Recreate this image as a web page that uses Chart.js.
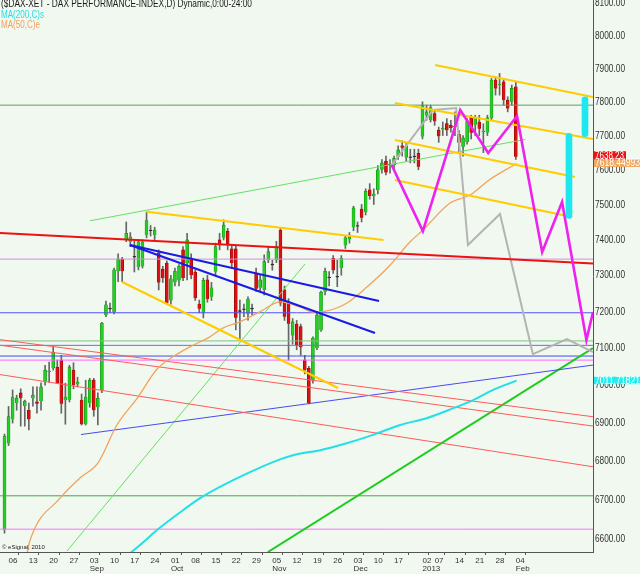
<!DOCTYPE html>
<html><head><meta charset="utf-8">
<script src="https://cdn.jsdelivr.net/npm/chart.js@4.4.1/dist/chart.umd.min.js"></script>
<style>html,body{margin:0;padding:0;background:#f0f8f0;}canvas{display:block;}</style>
</head><body>
<canvas id="c" width="640" height="574"></canvas>
<script>
// ---- categories: trading sessions (2012-08-03 .. 2013-02-04)
const sessions = ['08-03',
'08-06','08-07','08-08','08-09','08-10','08-13','08-14','08-15','08-16','08-17',
'08-20','08-21','08-22','08-23','08-24','08-27','08-28','08-29','08-30','08-31',
'09-03','09-04','09-05','09-06','09-07','09-10','09-11','09-12','09-13','09-14',
'09-17','09-18','09-19','09-20','09-21','09-24','09-25','09-26','09-27','09-28',
'10-01','10-02','10-03','10-04','10-05','10-08','10-09','10-10','10-11','10-12',
'10-15','10-16','10-17','10-18','10-19','10-22','10-23','10-24','10-25','10-26',
'10-29','10-30','10-31','11-01','11-02','11-05','11-06','11-07','11-08','11-09',
'11-12','11-13','11-14','11-15','11-16','11-19','11-20','11-21','11-22','11-23',
'11-26','11-27','11-28','11-29','11-30','12-03','12-04','12-05','12-06','12-07',
'12-10','12-11','12-12','12-13','12-14','12-17','12-18','12-19','12-20','12-21',
'12-27','12-28','01-02','01-03','01-04','01-07','01-08','01-09','01-10','01-11',
'01-14','01-15','01-16','01-17','01-18','01-21','01-22','01-23','01-24','01-25',
'01-28','01-29','01-30','01-31','02-01','02-04'];

// ---- OHLC series
const opens = [6623,6846,6909,6952,6979,6944,6933,6965,6955,6957,7010,7035,7045,7048,7067,6960,6960,7040,7002,6960,
6896,6952,7013,6941,6987,7190,7206,7198,7311,7345,7400,7394,7350,7323,7325,7413,7424,7413,7363,7317,
7334,7230,7280,7285,7371,7334,7348,7309,7220,7196,7287,7240,7310,7399,7405,7424,7374,7374,7199,7204,
7193,7206,7306,7265,7259,7342,7328,7342,7427,7259,7226,7134,7165,7158,7067,7045,7013,7100,7149,7254,
7292,7347,7294,7320,7384,7401,7435,7437,7487,7478,7542,7524,7541,7600,7625,7614,7614,7638,7670,7636,
7635,7637,7648,7697,7760,7746,7765,7716,7718,7735,7731,7725,7704,7667,7681,7754,7732,7740,7710,7709,
7752,7865,7850,7860,7805,7800,7845];
const highs = [6870,6943,6987,6973,6990,6960,6952,6995,6995,7006,7053,7062,7102,7067,7080,7005,7053,7060,7021,6976,
7013,7018,7018,6979,7170,7228,7223,7320,7360,7350,7450,7420,7396,7400,7400,7478,7440,7435,7371,7325,
7340,7300,7320,7330,7380,7418,7360,7315,7231,7292,7300,7280,7390,7418,7456,7432,7385,7385,7231,7220,
7240,7220,7320,7300,7357,7380,7342,7395,7432,7270,7235,7180,7175,7165,7080,7050,7130,7195,7256,7320,
7310,7355,7342,7355,7412,7420,7495,7450,7500,7545,7560,7545,7612,7630,7640,7630,7640,7670,7685,7680,
7660,7660,7660,7800,7790,7790,7775,7725,7740,7750,7745,7770,7715,7700,7750,7760,7760,7760,7735,7760,
7870,7875,7885,7865,7815,7850,7860];
const lows = [6615,6840,6899,6933,6891,6891,6881,6944,6925,6933,7000,7008,7040,7005,6925,6896,6955,6990,6995,6894,
6894,6941,6917,6894,6980,7185,7196,7193,7282,7282,7394,7380,7309,7315,7320,7405,7410,7400,7259,7280,
7220,7220,7270,7270,7285,7287,7290,7230,7196,7182,7225,7230,7300,7371,7399,7371,7320,7149,7121,7185,
7176,7190,7255,7255,7245,7335,7314,7335,7215,7175,7067,7110,7095,7080,7030,6950,7005,7095,7145,7245,
7270,7305,7268,7300,7375,7390,7425,7420,7450,7470,7515,7500,7530,7590,7585,7590,7600,7630,7640,7625,
7620,7620,7600,7690,7745,7740,7730,7680,7700,7700,7710,7700,7650,7640,7675,7690,7700,7700,7650,7700,
7745,7820,7820,7790,7770,7790,7630];
const closes = [6865,6916,6968,6965,6965,6957,6909,6973,6950,6995,7040,7036,7088,7005,6950,6968,7048,7000,7008,6896,
6968,7013,6933,6965,7168,7218,7206,7315,7345,7311,7418,7408,7350,7394,7393,7454,7424,7427,7280,7292,
7223,7290,7311,7325,7292,7399,7300,7236,7207,7286,7234,7265,7380,7385,7441,7385,7334,7182,7199,7204,
7234,7206,7262,7287,7338,7366,7328,7380,7222,7185,7166,7171,7107,7102,7040,6952,7127,7190,7253,7311,
7292,7314,7294,7347,7405,7407,7490,7437,7462,7538,7524,7530,7600,7620,7592,7614,7633,7658,7664,7670,
7635,7637,7609,7790,7770,7783,7742,7698,7722,7716,7722,7728,7679,7693,7742,7708,7754,7720,7712,7752,
7865,7840,7852,7805,7780,7840,7638];

// ---- studies (session index, value)
const ma50 = [[5.5,6560],[6.3,6597],[13.7,6704],[18.6,6756],[23.0,6794],[27.7,6894],[32.9,6968],[37.6,7043],
[41.5,7076],[45.7,7103],[50.6,7130],[53.8,7154],[58.0,7171],[63.0,7199],[67.9,7226],[72.8,7212],[76.0,7198],
[79.5,7201],[84.4,7223],[89.3,7267],[95.0,7328],[99.9,7393],[103.1,7427],[109.8,7504],[114.7,7527],[119.6,7572],[126.2,7618.45]];
const ma200 = [[30.4,6560],[33.4,6585],[37.6,6623],[43.3,6668],[48.2,6704],[53.1,6733],[60.5,6771],[67.9,6804],
[71.1,6815],[77.8,6828],[84.3,6846],[90.8,6868],[97.5,6894],[104.0,6912],[110.5,6938],[115.5,6960],[120.4,6987],[126.2,7011.72]];

// ---- drawn levels and trend lines (session index, value)
const hLevels = [7790,7345,7196,7119,7107,7078,7067,6710,6625];
const redMain = [[-1.11,7418.5],[145.02,7332.4]];
const redThin = [[[-1.11,7122.5],[145.02,6915.8]],[[-1.11,7107.3],[145.02,6891.2]],[[-1.11,7028.1],[145.02,6784.9]]];
const blueFan = [[[30.9,7384.6],[92.3,7228.3]],[[30.9,7384.6],[91.3,7140.5]]];
const blueSupport = [[18.85,6868.9],[145.02,7053.7]];
const goldLines = [[[35.0,7479.2],[93.4,7398.8]],[[29.0,7281.0],[82.2,6992.0]],
  [[106.1,7910.4],[145.02,7814.2]],[[96.2,7796.4],[145.02,7689.9]],[[96.2,7687.0],[140.6,7579.0]],[[96.2,7570.3],[139.9,7464.1]]];
const greenFast = [[64.9,6567.5],[145.02,7099.7]];
const greenLight = [[15.4,6570],[74.05,7331.2]];
const greenUpper = [[21.1,7453.5],[128.3,7688.5]];
const magentaPath = [[95.4,7613.8],[103.1,7424.2],[112.3,7775.6],[119.2,7648.8],[126.3,7757.8],[132.5,7364.9],[137.4,7507.0],[143.4,7121.4],[145.02,7198.1]];
const grayPath = [[95.4,7613.8],[105.6,7775.6],[111.3,7781.5],[114.2,7384.6],[122.1,7472.6],[130.2,7083.4],[138.6,7124.1],[145.02,7088.9]];
const targetBars = [[143.05,7696.6,7815.1],[139.1,7460.3,7706.7]];

// ---- axes
const yTicks = [6600,6700,6800,6900,7000,7100,7200,7300,7400,7500,7600,7700,7800,7900,8000,8100];
const tickDates = ['08-06','08-13','08-20','08-27','09-03','09-10','09-17','09-24','10-01','10-08','10-15','10-22','10-29',
'11-05','11-12','11-19','11-26','12-03','12-10','12-17','01-02','01-07','01-14','01-21','01-28','02-04'];
const tickLabels = [['06'],['13'],['20'],['27'],['03','Sep'],['10'],['17'],['24'],['01','Oct'],['08'],['15'],['22'],['29'],
['05','Nov'],['12'],['19'],['26'],['03','Dec'],['10'],['17'],['02','2013'],['07'],['14'],['21'],['28'],['04','Feb']];

const X_MIN = -1.109, X_MAX = 145.02, Y_MIN = 6567.5, Y_MAX = 8109.3;
const REG = "'Liberation Sans',Arial,sans-serif";

const tickIdx = tickDates.map(d => sessions.indexOf(d));
const pts = a => a.map(p => ({x: p[0], y: p[1]}));
function seg(data, color, width, extra) {
  return Object.assign({type: 'line', data: pts(data), borderColor: color, borderWidth: width,
    pointRadius: 0, fill: false, tension: 0, order: 1}, extra || {});
}
const hColors = ['#5a9e5a','#d58ee0','#5050ff','#7cc47c','#6a6aff','#4848f0','#ff66ff','#44aa44','#ff70ff'];

const datasets = [];
hLevels.forEach((v, i) => datasets.push(seg([[X_MIN, v], [X_MAX, v]], hColors[i], 1, {order: 5})));
redThin.forEach(l => datasets.push(seg(l, '#ff5a5a', 1, {order: 4})));
datasets.push(seg(blueSupport, '#4a4af0', 1, {order: 4}));
datasets.push(seg(greenLight, '#66e066', 1, {order: 4}));
datasets.push(seg(greenUpper, '#66e066', 1, {order: 4}));
datasets.push(seg(greenFast, '#1ccc1c', 2, {order: 4}));
datasets.push(seg(ma200, '#22e0e6', 2, {order: 3, cubicInterpolationMode: 'monotone'}));
datasets.push(seg(ma50, '#f4a35a', 1.3, {order: 3, cubicInterpolationMode: 'monotone'}));
// candles
const idx = sessions.map((s, i) => i);
datasets.push({type: 'bar', data: idx.map(i => ({x: i, y: [lows[i], highs[i]]})), backgroundColor: '#666',
  barThickness: 1, grouped: false, order: 7});
datasets.push({type: 'bar', data: idx.map(i => ({x: i, y: [opens[i], closes[i]]})),
  backgroundColor: idx.map(i => closes[i] > opens[i] ? '#22d022' : closes[i] < opens[i] ? '#dd1010' : '#333'),
  borderColor: idx.map(i => closes[i] > opens[i] ? '#118a11' : closes[i] < opens[i] ? '#8a0a0a' : '#333'),
  borderWidth: 0.6, barThickness: 3, minBarLength: 1, grouped: false, order: 6});
datasets.push(seg(redMain, '#ee1111', 2, {order: 2}));
blueFan.forEach(l => datasets.push(seg(l, '#1a1ae6', 2, {order: 2})));
goldLines.forEach(l => datasets.push(seg(l, '#ffcc00', 2.2, {order: 2})));
datasets.push(seg(grayPath, '#b4b4b4', 2, {order: 2}));
datasets.push(seg(magentaPath, '#ee22ee', 2.6, {order: 1}));
datasets.push({type: 'bar', data: targetBars.map(b => ({x: b[0], y: [b[1], b[2]]})), backgroundColor: '#1ee8ee',
  barThickness: 6, borderRadius: 3, borderSkipped: false, grouped: false, order: 0});

const bg = {id: 'bg', beforeDraw(c) { const g = c.ctx; g.save(); g.fillStyle = '#f0f8f0'; g.fillRect(0, 0, c.width, c.height); g.restore(); }};
const overlay = {id: 'overlay', afterDraw(c) {
  const g = c.ctx, ys = c.scales.y; g.save();
  g.textAlign = 'left'; g.textBaseline = 'alphabetic';
  g.font = '10px ' + REG;
  g.fillStyle = '#1a1a1a'; g.fillText('($DAX-XET - DAX PERFORMANCE-INDEX,D) Dynamic,0:00-24:00', 1, 7, 251);
  g.fillStyle = '#22e0e6'; g.fillText('MA(200,C)s', 1, 17.5, 43);
  g.fillStyle = '#f0a060'; g.fillText('MA(50,C)e', 1, 28, 39);
  g.font = '6px ' + REG; g.fillStyle = '#222'; g.fillText('\u00a9 eSignal, 2010', 2, 549);
  // right axis labels (condensed)
  g.font = '10px ' + REG; g.textBaseline = 'middle'; g.fillStyle = '#333';
  yTicks.forEach(v => g.fillText(v.toFixed(2), 595, ys.getPixelForValue(v) + 0.5, 30));
  const tags = [{v: closes[closes.length - 1], t: '7638.23', bg: '#ee1111', dy: -5.5, h: 8.5, w: 32, mw: 29},
                {v: ma50[ma50.length - 1][1], t: '7618.44993', bg: '#f0a860', dy: -4, h: 7.5, w: 46, mw: 45},
                {v: ma200[ma200.length - 1][1], t: '7011.71821', bg: '#22eef0', dy: -4, h: 7.5, w: 47, mw: 45}];
  tags.forEach(tg => { const py = ys.getPixelForValue(tg.v); g.fillStyle = tg.bg; g.fillRect(594, py + tg.dy, tg.w, tg.h);
    g.fillStyle = '#fff'; g.fillText(tg.t, 595, py + tg.dy + tg.h / 2 + 0.5, tg.mw); });
  g.restore();
}};

new Chart(document.getElementById('c'), {
  data: {datasets},
  options: {
    responsive: false, animation: false, devicePixelRatio: 1, events: [],
    layout: {padding: 0},
    plugins: {legend: {display: false}, tooltip: {enabled: false}},
    scales: {
      x: {type: 'linear', min: X_MIN, max: X_MAX, offset: false,
        grid: {display: true, drawOnChartArea: false, drawTicks: true, tickLength: 3, color: '#555'},
        border: {display: true, color: '#555'},
        ticks: {autoSkip: false, maxRotation: 0, align: 'start', padding: 1, color: '#333',
          font: {family: REG, size: 8, lineHeight: 1.1},
          callback: (v) => { const j = tickIdx.indexOf(v); return j >= 0 ? tickLabels[j] : ''; }},
        afterBuildTicks: s => { s.ticks = tickIdx.map(v => ({value: v})); },
        afterFit: s => { s.height = 22; s.paddingLeft = 0; s.paddingRight = 0; }},
      y: {type: 'logarithmic', position: 'right', min: Y_MIN, max: Y_MAX,
        grid: {display: false, drawTicks: false},
        border: {display: true, color: '#555'},
        ticks: {display: false},
        afterBuildTicks: s => { s.ticks = yTicks.map(v => ({value: v})); },
        afterFit: s => { s.width = 47; s.paddingTop = 0; s.paddingBottom = 0; }}
    }
  },
  plugins: [bg, overlay]
});
</script>
</body></html>
